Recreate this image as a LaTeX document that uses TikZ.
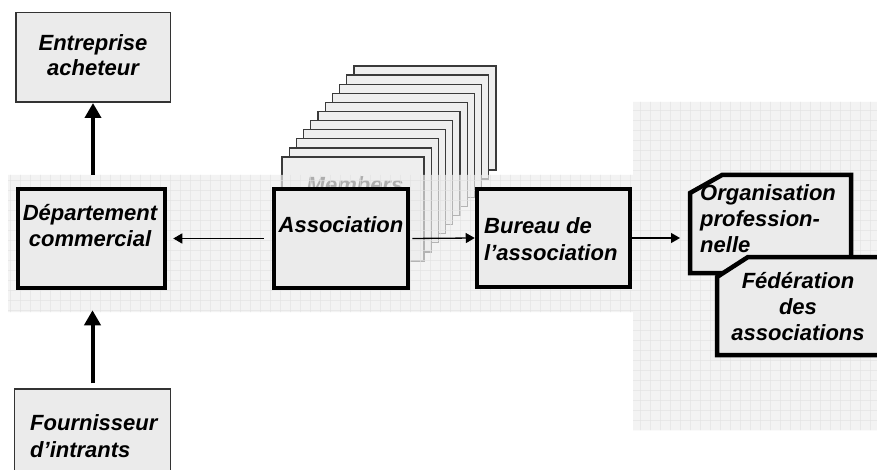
\documentclass[tikz,border=0pt]{standalone}
\usepackage{fontspec}
\setmainfont{Liberation Sans}
\usetikzlibrary{arrows.meta}
\definecolor{boxfill}{HTML}{EBEBEB}
\definecolor{bandfill}{HTML}{EEEEEE}
\definecolor{gridline}{HTML}{E2E2E2}
\definecolor{pagefill}{HTML}{EEEEEE}
\definecolor{pageline}{HTML}{3A3A3A}
\begin{document}
\begin{tikzpicture}[x=1pt,y=-1pt,
  lbl/.style={font=\fontsize{22}{25}\selectfont\bfseries\itshape, inner sep=0pt, align=center},
  lblwide/.style={font=\fontsize{22}{27}\selectfont\bfseries\itshape, inner sep=0pt, align=left},
  thinbox/.style={draw=black!80, line width=1.5pt, fill=boxfill, inner sep=0pt},
  thickbox/.style={draw=black, line width=4.5pt, fill=boxfill, inner sep=0pt},
  bigarrow/.style={line width=4pt, -{Triangle[width=16pt,length=15pt]}},
  smallarrow/.style={line width=1.3pt, -{Triangle[width=10pt,length=9pt]}},
  pagesheet/.style={draw=pageline, line width=1.3pt, fill=pagefill},
]
\useasboundingbox (0,0) rectangle (877,470);
\clip (0,0) rectangle (877,470);
\fill[white] (0,0) rectangle (877,470);

% stack of member sheets
\foreach \i in {10,9,...,0} {
  \draw[pagesheet] ({282+7.2*\i},{157-9.1*\i}) rectangle ++(142,104);
}
\node[lbl, text=black!85, anchor=base] (members) at (355,193) {Members};

% background band with grid
\path[fill=bandfill, fill opacity=0.68] (8,175) -- (633,175) -- (633,102) -- (877,102) -- (877,430) -- (633,430) -- (633,312) -- (8,312) -- cycle;
\begin{scope}
  \clip (8,175) -- (633,175) -- (633,102) -- (877,102) -- (877,430) -- (633,430) -- (633,312) -- (8,312) -- cycle;
  \foreach \gx in {0,10,...,870} \draw[gridline, line width=0.3pt, opacity=0.6] (\gx,100) -- (\gx,432);
  \foreach \gy in {100,110,...,430} \draw[gridline, line width=0.3pt, opacity=0.6] (0,\gy) -- (877,\gy);
\end{scope}

% boxes
\node[thinbox, minimum width=154.5pt, minimum height=89.5pt] (ent) at (93,57.5) {};
\node[lbl, anchor=base] (entT) at (93,76) {Entreprise\\acheteur};

\node[thickbox, minimum width=147pt, minimum height=99pt] (dep) at (91.5,238.5) {};
\node[lbl, anchor=base] (depT) at (90,246) {Département\\commercial};

\node[thickbox, minimum width=134pt, minimum height=99pt] (assoc) at (341,238.5) {};
\node[lbl, anchor=base] (assocT) at (341,233) {Association};

\node[thickbox, minimum width=153pt, minimum height=98pt] (bur) at (553.5,238) {};
\node[lblwide, anchor=base west] (burT) at (484,260) {Bureau de\\l’association};

\node[thinbox, minimum width=156pt, minimum height=90pt] (four) at (92.5,434) {};
\node[lblwide, anchor=base west] (fourT) at (30,457) {Fournisseur\\d’intrants};

% professional organisation and federation
\draw[thickbox, line join=miter] (690,193) -- (722,175) -- (851,175) -- (851,273) -- (690,273) -- cycle;
\node[lbl, align=left, font=\fontsize{22}{26}\selectfont\bfseries\itshape, anchor=base west] (orgT) at (700,252) {Organisation\\profession-\\nelle};
\draw[thickbox, line join=miter] (717,277) -- (748,257) -- (885,257) -- (885,355) -- (717,355) -- cycle;
\node[lbl, font=\fontsize{22}{26}\selectfont\bfseries\itshape, anchor=base] (fedT) at (798,340) {Fédération\\des\\associations};
\coordinate (orgW) at (688,238);

% connectors
\draw[bigarrow, shorten <=12pt] (ent.south |- dep.north) -- (ent.south);
\draw[bigarrow, shorten <=5pt, shorten >=20pt] (four.north) -- (four.north |- dep.south);
\draw[smallarrow, shorten <=8pt, shorten >=6pt] (assoc.west) -- (dep.east);
\draw[smallarrow, shorten <=2pt] (assoc.east) -- (bur.west);
\draw[smallarrow, shorten >=8pt] (bur.east) -- (orgW);
\end{tikzpicture}
\end{document}
